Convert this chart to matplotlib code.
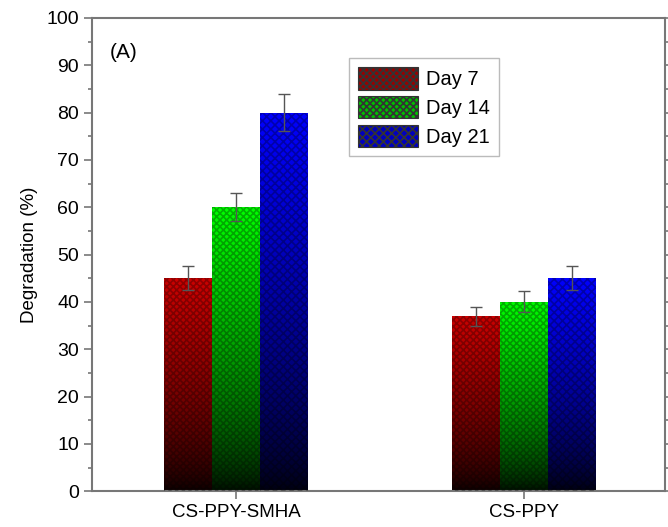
import numpy as np
import matplotlib.pyplot as plt
from matplotlib.patches import Rectangle

plt.rcParams['font.family'] = ['Liberation Sans', 'DejaVu Sans']
plt.rcParams['hatch.linewidth'] = 1.2

# ----------- Data -----------
groups = ["CS-PPY-SMHA", "CS-PPY"]
series = ["Day 7", "Day 14", "Day 21"]
day7 = [45, 37]
day14 = [60, 40]
day21 = [80, 45]
err7 = [2.5, 2.0]
err14 = [3.0, 2.2]
err21 = [4.0, 2.5]

values = [day7, day14, day21]
errors = [err7, err14, err21]
colors = [(0.8, 0.0, 0.0), (0.0, 1.0, 0.0), (0.0, 0.0, 1.0)]
hatches = ['xxxxx', 'xxxxx', 'xxxx']


def gradient_bar(ax, rect, color):
    # top bright, bottom black
    x0, y0 = rect.get_x(), rect.get_y()
    w, h = rect.get_width(), rect.get_height()
    t = np.linspace(0, 1, 256).reshape(-1, 1)
    img = np.zeros((256, 1, 3))
    for k in range(3):
        img[:, :, k] = color[k] * (0.05 + 0.95 * t ** 0.7)
    im = ax.imshow(img, extent=(x0, x0 + w, y0, y0 + h), origin='lower',
                   aspect='auto', zorder=1, interpolation='bilinear')
    im.set_clip_path(rect)


fig = plt.figure(figsize=(6.68, 5.27), dpi=100)
ax = fig.add_axes([0.138, 0.068, 0.857, 0.898])

x = np.arange(len(groups))
width = 1 / 6
for i, (vals, errs) in enumerate(zip(values, errors)):
    pos = x + (i - 1) * width
    bars = ax.bar(pos, vals, width, color='none', edgecolor='none',
                  label=series[i], zorder=2)
    for b in bars:
        gradient_bar(ax, b, colors[i])
        ax.add_patch(Rectangle((b.get_x(), 0), b.get_width(), b.get_height(),
                               fill=False, hatch=hatches[i], edgecolor=(0, 0, 0, 0.3),
                               linewidth=0, zorder=3))
    ax.errorbar(pos, vals, yerr=errs, fmt='none', ecolor='#555555',
                elinewidth=1, capsize=4, capthick=1, zorder=4)

ax.set_xlim(-0.5, 1.49)
ax.set_ylim(0, 100)
ax.set_xticks(x)
ax.set_xticklabels(groups, fontsize=13.5)
ax.set_yticks(range(0, 101, 10))
ax.set_yticks(range(5, 100, 10), minor=True)
ax.tick_params(axis='y', which='major', labelsize=14, length=6, width=1.2,
               color='#777777', right=True)
ax.tick_params(axis='y', which='minor', length=3, width=1.2, color='#777777', right=True)
ax.tick_params(axis='x', length=6, width=1.2, color='#777777', labelsize=13.5)
for s in ax.spines.values():
    s.set_color('#777777')
    s.set_linewidth(1.5)
ax.set_ylabel("Degradation (%)", fontsize=13.5, labelpad=6)

ax.text(0.03, 0.915, "(A)", transform=ax.transAxes, fontsize=15)

# legend swatches
handles = []
for i in range(3):
    handles.append(Rectangle((0, 0), 1, 1, facecolor=tuple(c * 0.75 for c in colors[i]),
                             edgecolor='#333333', hatch=hatches[i], linewidth=0.8))
leg = ax.legend(handles, series, loc='upper left', bbox_to_anchor=(0.448, 0.915),
                fontsize=14.5, frameon=True, fancybox=False, edgecolor='#aaaaaa',
                handlelength=3.0, handleheight=1.35, labelspacing=0.3,
                borderpad=0.45, handletextpad=0.4, borderaxespad=0)
leg.get_frame().set_linewidth(1.0)

fig.savefig("out.png", dpi=100)
